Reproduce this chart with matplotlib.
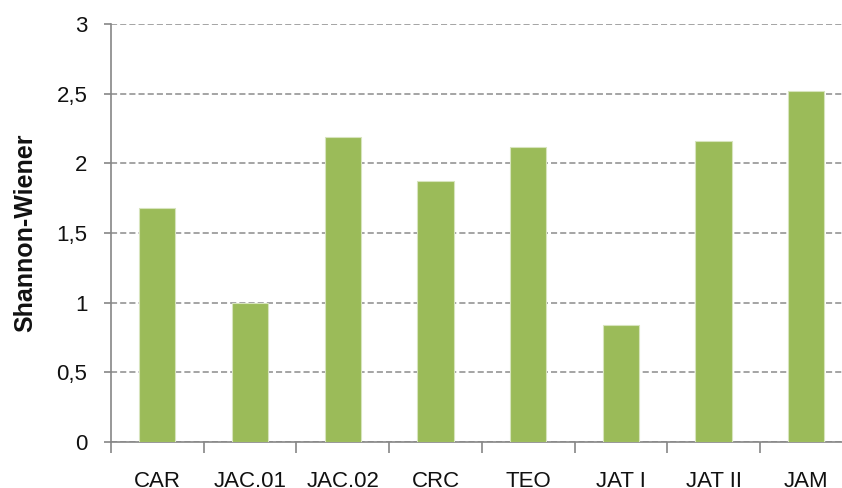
import matplotlib.pyplot as plt
from matplotlib.ticker import FuncFormatter

sites = ['CAR', 'JAC.01', 'JAC.02', 'CRC', 'TEO', 'JAT I', 'JAT II', 'JAM']
shannon = [1.68, 1.00, 2.19, 1.87, 2.12, 0.84, 2.16, 2.52]

plt.rcParams['font.family'] = ['Liberation Sans', 'DejaVu Sans']

fig = plt.figure(figsize=(8.42, 4.88), dpi=100)
# plot area runs past the right edge, as in the cropped original
ax = fig.add_axes([111 / 842, 46 / 488, 741.6 / 842, 418 / 488])

x = range(len(sites))
ax.bar(x, shannon, width=0.39, color='#9BBB59', edgecolor='#D7E4BD', linewidth=0.8, zorder=3)

ax.set_xlim(-0.5, len(sites) - 0.5)
ax.set_ylim(0, 3)
ax.set_yticks([0, 0.5, 1, 1.5, 2, 2.5, 3])
ax.yaxis.set_major_formatter(FuncFormatter(lambda v, p: f'{v:g}'.replace('.', ',')))

ax.set_xticks(x)
ax.set_xticklabels(sites)
ax.set_xticks([i - 0.5 for i in range(len(sites) + 1)], minor=True)
ax.tick_params(axis='x', which='major', length=0, pad=21, labelsize=16, labelcolor='#111111')
ax.tick_params(axis='x', which='minor', length=8, color='#868686', width=1.2)
ax.tick_params(axis='y', length=5, color='#868686', width=1.2, labelsize=16, pad=12,
               labelcolor='#111111')

ax.grid(axis='y', color='#8C8C8C', linestyle=(0, (4, 2)), linewidth=1.1, zorder=0)
for s in ['top', 'right']:
    ax.spines[s].set_visible(False)
for s in ['left', 'bottom']:
    ax.spines[s].set_color('#868686')
    ax.spines[s].set_linewidth(1.2)

ax.set_ylabel('Shannon-Wiener', fontsize=18, fontweight='bold', labelpad=14, color='#111111')

fig.savefig('out.png', dpi=100)
